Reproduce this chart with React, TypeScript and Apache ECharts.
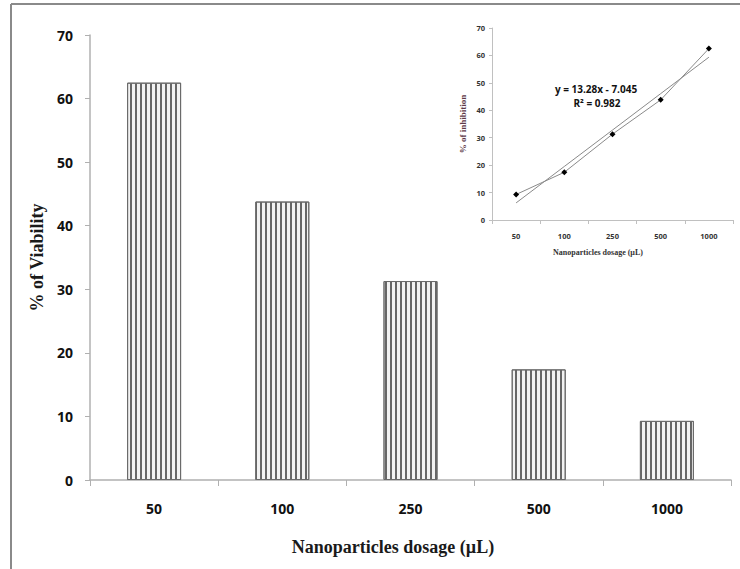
import React, { useEffect, useRef } from "react";
import * as echarts from "echarts";

const categories = ["50", "100", "250", "500", "1000"];
const viability = [62.5, 43.8, 31.3, 17.4, 9.3];
const inhibition = [9.3, 17.4, 31.3, 43.8, 62.5];
const trendSlope = 13.28;
const trendIntercept = -7.045;
const trendValues = [6.235, 19.515, 32.795, 46.075, 59.355];
const yTicks = { min: 0, max: 70, interval: 10 };

export default function App() {
  const ref = useRef<HTMLDivElement>(null);
  useEffect(() => {
    if (!ref.current) return;
    const chart = echarts.init(ref.current, null, { renderer: "svg" });
    const sans = "'Open Sans', 'Noto Sans', sans-serif";
    const serif = "'Liberation Serif', 'DejaVu Serif', serif";
    chart.setOption({
      animation: false,
      backgroundColor: "#ffffff",
      grid: [
        { left: 90, top: 35, width: 641, height: 445 },
        { left: 492, top: 28, width: 241, height: 192 },
      ],
      xAxis: [
        {
          type: "category",
          gridIndex: 0,
          data: categories,
          axisLine: { lineStyle: { color: "#b0b0b0", width: 1.5 } },
          axisTick: { show: true, length: 6, lineStyle: { color: "#b0b0b0" } },
          axisLabel: { color: "#111", fontFamily: sans, fontWeight: "bold", fontSize: 14, margin: 21 },
        },
        {
          type: "category",
          gridIndex: 1,
          data: categories,
          axisLine: { lineStyle: { color: "#c0c0c0" } },
          axisTick: { show: true, length: 4, lineStyle: { color: "#c0c0c0" } },
          axisLabel: { color: "#333", fontFamily: sans, fontWeight: "bold", fontSize: 7.5, margin: 12 },
        },
      ],
      yAxis: [
        {
          type: "value",
          gridIndex: 0,
          min: yTicks.min,
          max: yTicks.max,
          interval: yTicks.interval,
          axisLine: { show: true, lineStyle: { color: "#b0b0b0", width: 1.5 } },
          axisTick: { show: true, length: 5, lineStyle: { color: "#b0b0b0" } },
          splitLine: { show: false },
          axisLabel: { color: "#111", fontFamily: sans, fontWeight: "bold", fontSize: 14, margin: 17 },
          name: "% of Viability",
          nameLocation: "middle",
          nameGap: 42,
          nameTextStyle: { color: "#1a1a1a", fontFamily: serif, fontWeight: "bold", fontSize: 18 },
        },
        {
          type: "value",
          gridIndex: 1,
          min: yTicks.min,
          max: yTicks.max,
          interval: yTicks.interval,
          axisLine: { show: true, lineStyle: { color: "#c0c0c0" } },
          axisTick: { show: true, length: 3, lineStyle: { color: "#c0c0c0" } },
          splitLine: { show: false },
          axisLabel: { color: "#333", fontFamily: sans, fontWeight: "bold", fontSize: 7.5, margin: 7 },
          name: "% of inhibition",
          nameLocation: "middle",
          nameGap: 25,
          nameTextStyle: { color: "#5e3a48", fontFamily: serif, fontWeight: "bold", fontSize: 9 },
        },
      ],
      series: [
        {
          type: "bar",
          xAxisIndex: 0,
          yAxisIndex: 0,
          data: viability,
          barWidth: 54,
          itemStyle: {
            color: "#f2f2f2",
            borderColor: "#6a6a6a",
            borderWidth: 1,
            decal: {
              symbol: "rect",
              symbolSize: 1,
              color: "#666",
              dashArrayX: [2, 2.5],
              dashArrayY: [5, 0],
              rotation: 0,
            },
          },
        },
        {
          type: "line",
          xAxisIndex: 1,
          yAxisIndex: 1,
          data: inhibition,
          symbol: "diamond",
          symbolSize: 6,
          itemStyle: { color: "#000" },
          lineStyle: { color: "#8a8a8a", width: 1 },
        },
        {
          type: "line",
          xAxisIndex: 1,
          yAxisIndex: 1,
          data: trendValues,
          symbol: "none",
          lineStyle: { color: "#8a8a8a", width: 1 },
        },
      ],
      graphic: [
        { type: "line", shape: { x1: 11, y1: 4, x2: 740, y2: 4 }, style: { stroke: "#8a8a8a", lineWidth: 2 } },
        { type: "line", shape: { x1: 11, y1: 4, x2: 11, y2: 569 }, style: { stroke: "#8a8a8a", lineWidth: 2 } },
        {
          type: "text",
          x: 596,
          y: 89,
          style: {
            text: `y = ${trendSlope}x - ${Math.abs(trendIntercept)}`,
            fill: "#111",
            font: `bold 10px ${sans}`,
            align: "center",
            verticalAlign: "middle",
          },
        },
        {
          type: "text",
          x: 597,
          y: 103,
          style: {
            text: "R\u00b2 = 0.982",
            fill: "#111",
            font: `bold 10px ${sans}`,
            align: "center",
            verticalAlign: "middle",
          },
        },
        {
          type: "text",
          x: 598,
          y: 252,
          style: {
            text: "Nanoparticles dosage (\u00b5L)",
            fill: "#333",
            font: `bold 8px ${serif}`,
            align: "center",
            verticalAlign: "middle",
          },
        },
        {
          type: "text",
          x: 393,
          y: 547,
          style: {
            text: "Nanoparticles dosage (\u00b5L)",
            fill: "#1a1a1a",
            font: `bold 18px ${serif}`,
            align: "center",
            verticalAlign: "middle",
          },
        },
      ],
    });
    return () => chart.dispose();
  }, []);
  return (
    <div
      ref={ref}
      style={{ position: "fixed", left: 0, top: 0, width: 740, height: 569, background: "#fff" }}
    />
  );
}
